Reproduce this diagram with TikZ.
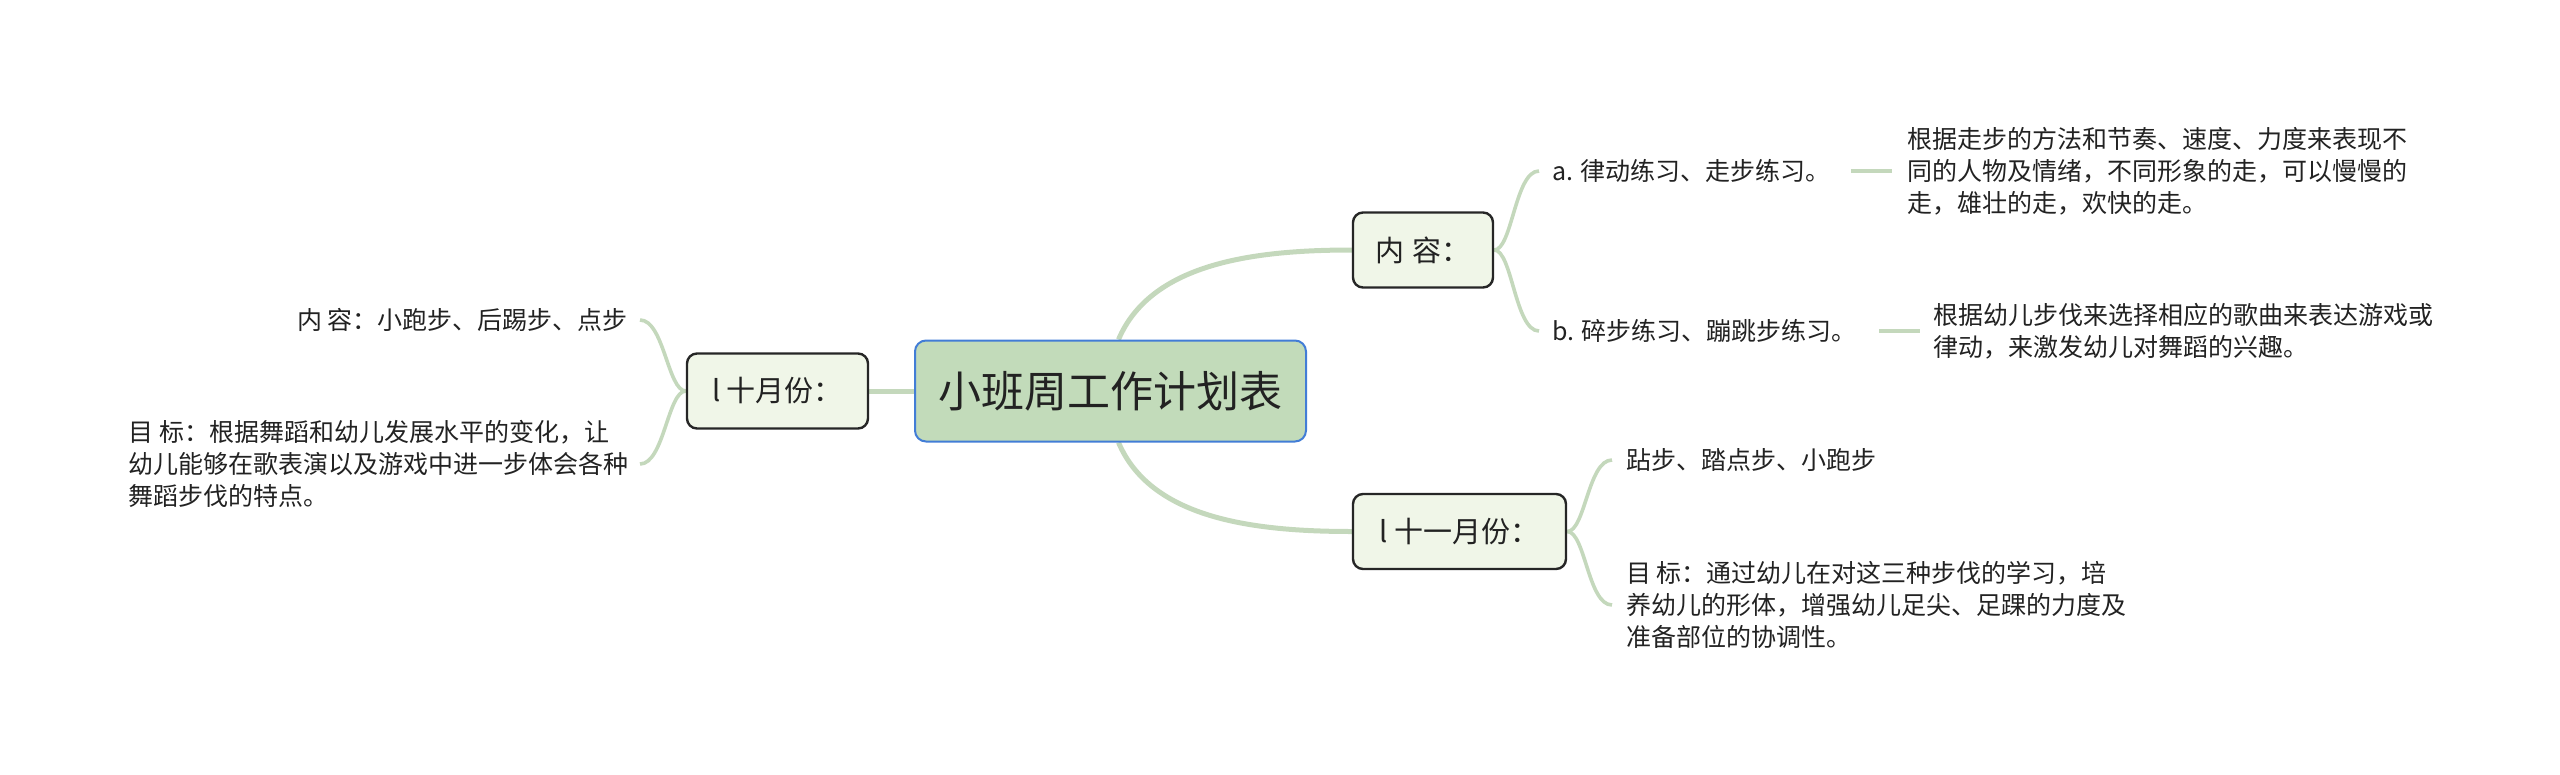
\documentclass[tikz,border=0pt]{standalone}
\usepackage{fontspec}
\setmainfont{Noto Sans CJK SC}
\usetikzlibrary{backgrounds}
\definecolor{lnk}{RGB}{196,216,188}
\definecolor{rootfill}{RGB}{194,219,186}
\definecolor{rootdraw}{RGB}{66,125,214}
\definecolor{topfill}{RGB}{240,246,232}
\definecolor{txt}{RGB}{34,34,34}
\tikzset{
  rootbox/.style={draw=rootdraw, line width=2pt, fill=rootfill, rounded corners=11pt,
    minimum width=391pt, minimum height=101pt, inner sep=0pt, text=txt,
    font=\fontsize{43}{50}\selectfont},
  topicbox/.style={draw=black!85, line width=2.4pt, fill=topfill, rounded corners=10pt,
    minimum height=75pt, inner sep=0pt, text=txt, font=\fontsize{29}{34}\selectfont},
  leaf/.style={inner sep=0pt, text=txt, font=\fontsize{25}{32}\selectfont, align=left},
  link/.style={draw=lnk, line width=5pt},
  sublink/.style={draw=lnk, line width=3.6pt},
  shortlink/.style={draw=lnk, line width=4pt}
}
\begin{document}
\begin{tikzpicture}[x=1pt, y=-1pt]
\useasboundingbox (0,0) rectangle (2560,774);
\node[rootbox] (root) at (1110.5,391) {小班周工作计划表};
\node[topicbox, minimum width=140pt] (c1) at (1423,250) {内\hspace{0.3em}容：};
\node[topicbox, minimum width=213pt] (c2) at (1459.5,531.5) {l 十一月份：};
\node[topicbox, minimum width=181pt] (c3) at (777.5,391) {l 十月份：};

\node[leaf, anchor=west] (a) at (1552,171) {a. 律动练习、走步练习。};
\node[leaf, anchor=west] (pa) at (1907,171) {根据走步的方法和节奏、速度、力度来表现不\\同的人物及情绪，不同形象的走，可以慢慢的\\走，雄壮的走，欢快的走。};
\node[leaf, anchor=west] (b) at (1552,331) {b. 碎步练习、蹦跳步练习。};
\node[leaf, anchor=west] (pb) at (1933,331) {根据幼儿步伐来选择相应的歌曲来表达游戏或\\律动，来激发幼儿对舞蹈的兴趣。};

\node[leaf, anchor=west] (d1) at (1626,460) {跕步、踏点步、小跑步};
\node[leaf, anchor=west] (d2) at (1626,605) {目 标：通过幼儿在对这三种步伐的学习，培\\养幼儿的形体，增强幼儿足尖、足踝的力度及\\准备部位的协调性。};

\node[leaf, anchor=east] (e1) at (628,320) {内 容：小跑步、后踢步、点步};
\node[leaf, anchor=east] (e2) at (629,464) {目 标：根据舞蹈和幼儿发展水平的变化，让\\幼儿能够在歌表演以及游戏中进一步体会各种\\舞蹈步伐的特点。};

\begin{scope}[on background layer]
% main links
\path[link] ([xshift=8pt]root.north) .. controls +(32,-75) and +(-102,0) .. (c1.west);
\path[link] ([xshift=8pt]root.south) .. controls +(32,75) and +(-102,0) .. (c2.west);
\path[link] (root.west) -- (c3.east);
% sub links of c1
\path[sublink] (c1.east) .. controls +(18,0) and +(-24,0) .. ([xshift=-13pt]a.west);
\path[sublink] (c1.east) .. controls +(18,0) and +(-24,0) .. ([xshift=-13pt]b.west);
% sub links of c2
\path[sublink] (c2.east) .. controls +(18,0) and +(-24,0) .. ([xshift=-14pt]d1.west);
\path[sublink] (c2.east) .. controls +(18,0) and +(-24,0) .. ([xshift=-14pt]d2.west);
% sub links of c3
\path[sublink] (c3.west) .. controls +(-18,0) and +(24,0) .. ([xshift=12pt]e1.east);
\path[sublink] (c3.west) .. controls +(-18,0) and +(24,0) .. ([xshift=11pt]e2.east);
% short links
\path[shortlink] ([xshift=20pt]a.east) -- ([xshift=-15pt]pa.west);
\path[shortlink] ([xshift=22pt]b.east) -- ([xshift=-13pt]pb.west);
\end{scope}
\end{tikzpicture}
\end{document}
